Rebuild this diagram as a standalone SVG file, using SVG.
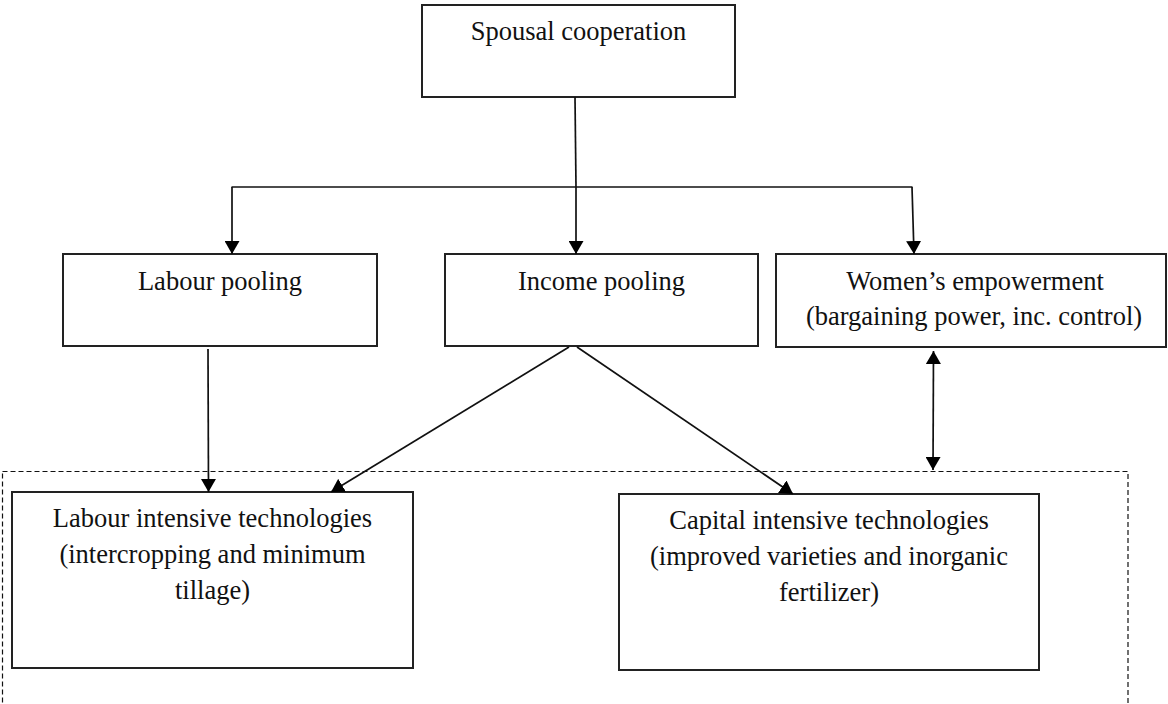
<svg xmlns="http://www.w3.org/2000/svg" width="1168" height="704" viewBox="0 0 1168 704">
<style>
.box{fill:#fff;stroke:#222;stroke-width:2}
.t{font-family:"Liberation Serif","Times New Roman",serif;font-size:26.5px;fill:#111;text-anchor:middle}
.c{fill:none;stroke:#111;stroke-width:1.7}
.d{fill:none;stroke:#111;stroke-width:1.2;stroke-dasharray:5 3}
</style>
<defs>
<marker id="ah" viewBox="0 0 13 15" refX="13" refY="7.5" markerWidth="13" markerHeight="15" markerUnits="userSpaceOnUse" orient="auto-start-reverse">
<path d="M0,0 L13,7.5 L0,15 Z" fill="#000"/>
</marker>
</defs>
<rect class="d" x="2.5" y="471.5" width="1125.5" height="250"/>
<g id="spousal">
<rect class="box" x="422" y="5" width="313" height="92"/>
<text class="t" x="578.5" y="40">Spousal cooperation</text>
</g>
<g id="labour-pooling">
<rect class="box" x="63" y="254" width="314" height="92"/>
<text class="t" x="220" y="290">Labour pooling</text>
</g>
<g id="income-pooling">
<rect class="box" x="445" y="254" width="313" height="92"/>
<text class="t" x="601.5" y="290">Income pooling</text>
</g>
<g id="women">
<rect class="box" x="776" y="254" width="390" height="93"/>
<text class="t" x="975" y="290">Women’s empowerment</text>
<text class="t" x="974" y="325">(bargaining power, inc. control)</text>
</g>
<g id="labour-tech">
<rect class="box" x="12" y="492" width="401" height="176"/>
<text class="t" x="212.5" y="527">Labour intensive technologies</text>
<text class="t" x="212.5" y="563">(intercropping and minimum</text>
<text class="t" x="212.5" y="599">tillage)</text>
</g>
<g id="capital-tech">
<rect class="box" x="619" y="494" width="420" height="176"/>
<text class="t" x="829" y="529">Capital intensive technologies</text>
<text class="t" x="829" y="565">(improved varieties and inorganic</text>
<text class="t" x="829" y="601">fertilizer)</text>
</g>
<g id="connectors">
<line class="c" x1="575" y1="97" x2="576" y2="187"/>
<line class="c" x1="231.5" y1="187" x2="912.5" y2="187"/>
<line class="c" x1="232" y1="187" x2="232" y2="254" marker-end="url(#ah)"/>
<line class="c" x1="576" y1="187" x2="576" y2="254" marker-end="url(#ah)"/>
<line class="c" x1="912" y1="187" x2="914" y2="254" marker-end="url(#ah)"/>
<line class="c" x1="208" y1="349" x2="208.5" y2="492" marker-end="url(#ah)"/>
<line class="c" x1="569" y1="347" x2="331" y2="492" marker-end="url(#ah)"/>
<line class="c" x1="577" y1="347" x2="793" y2="494" marker-end="url(#ah)"/>
<line class="c" x1="933.5" y1="351" x2="933" y2="470" marker-start="url(#ah)" marker-end="url(#ah)"/>
</g>
</svg>
